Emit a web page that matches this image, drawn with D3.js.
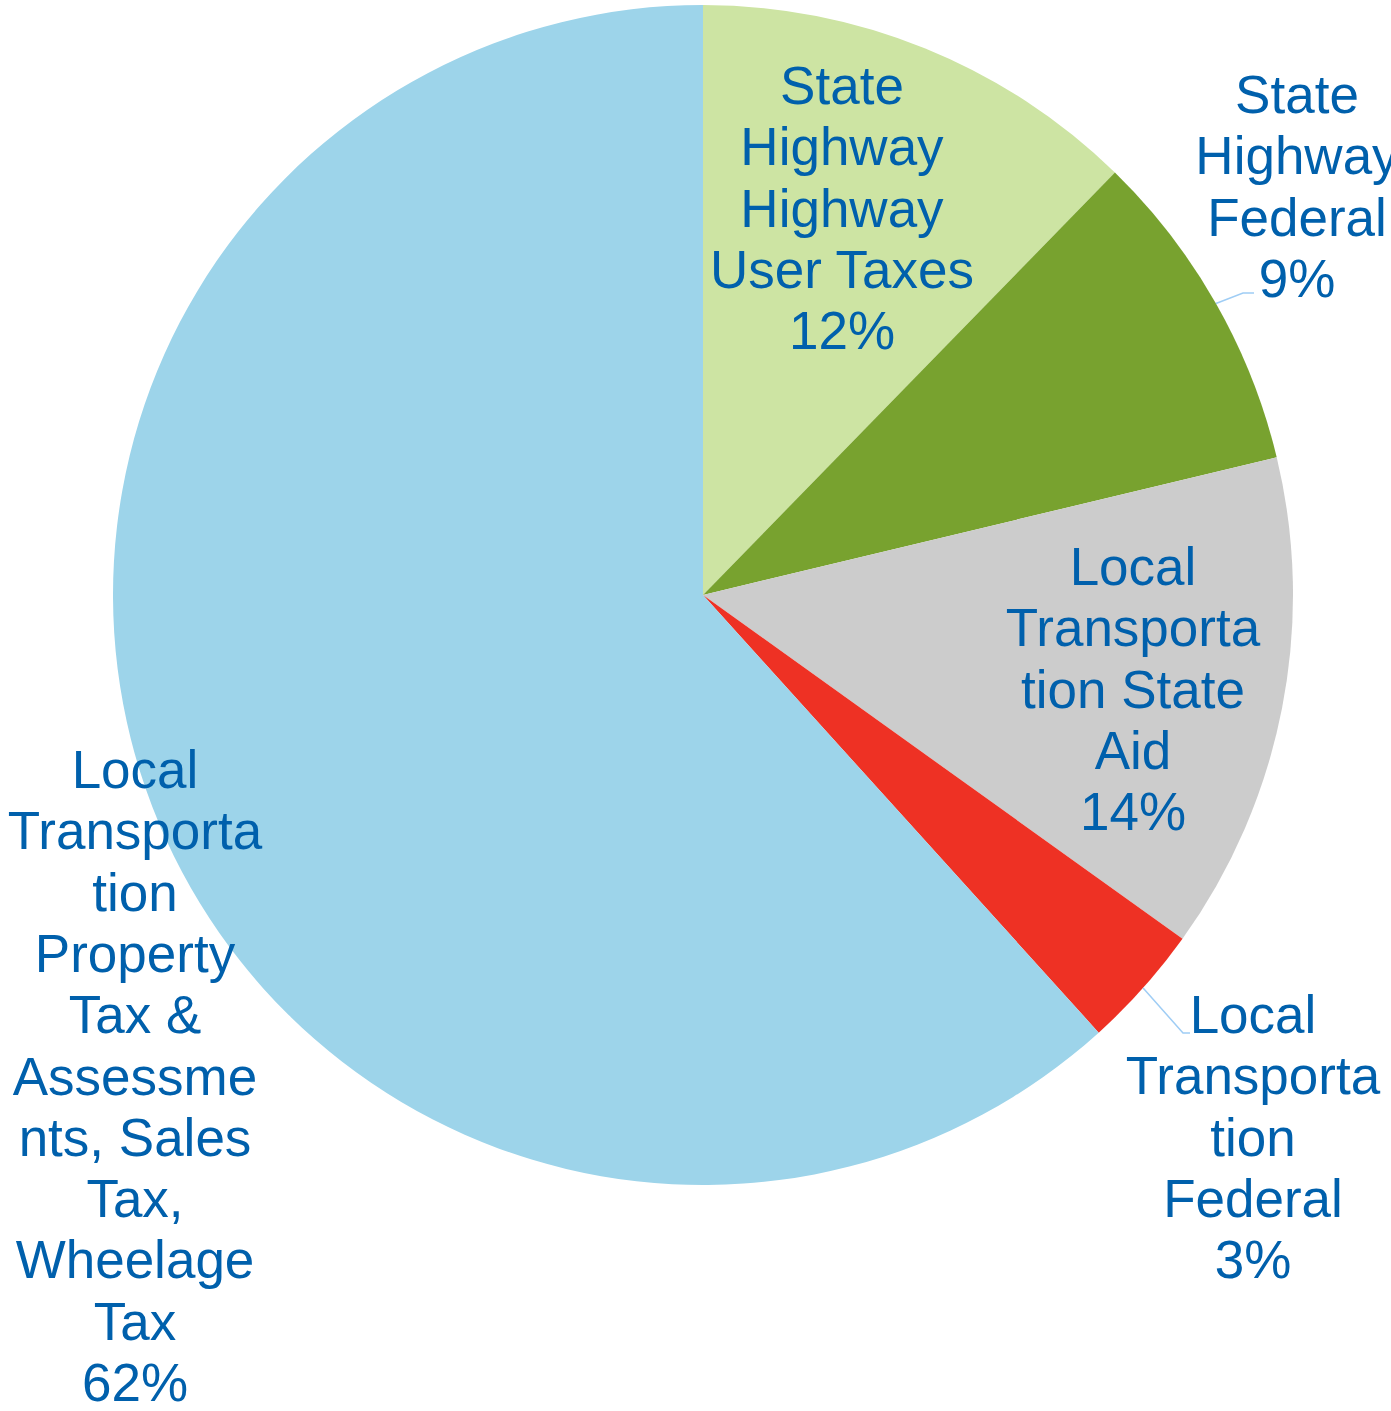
<!DOCTYPE html>
<html>
<head>
<meta charset="utf-8">
<script src="https://cdn.jsdelivr.net/npm/d3@7"></script>
<style>
  html, body { margin: 0; padding: 0; background: #fff; overflow: hidden; }
  svg text { font-family: "Liberation Sans", Arial, sans-serif; fill: #0060ac; }
</style>
</head>
<body>
<svg width="1391" height="1411"></svg>
<script>
// slice data, clockwise from 12 o'clock
const categories = [
    "State Highway Highway User Taxes",
    "State Highway Federal",
    "Local Transportation State Aid",
    "Local Transportation Federal",
    "Local Transportation Property Tax & Assessments, Sales Tax, Wheelage Tax"
];
const shares = [12.3, 8.95, 13.65, 3.4, 61.7];
const pctLabels = ["12%", "9%", "14%", "3%", "62%"];
const labelLines = [
    ["State", "Highway", "Highway", "User Taxes"],
    ["State", "Highway", "Federal"],
    ["Local", "Transporta", "tion State", "Aid"],
    ["Local", "Transporta", "tion", "Federal"],
    ["Local", "Transporta", "tion", "Property", "Tax &", "Assessme", "nts, Sales", "Tax,", "Wheelage", "Tax"]
];
const colors = ["#cde4a3", "#78a22f", "#cccccc", "#ee3124", "#9dd4ea"];

const svg = d3.select("svg");
const cx = 703, cy = 595, radius = 590;
const lineHeight = 61.3;

// label anchors: x centre, baseline of first line; leader elbow/end where used
const labelLayout = [
    { x: 842, y: 104 },
    { x: 1297, y: 113, elbow: [1243, 293], end: [1254, 293] },
    { x: 1133, y: 585 },
    { x: 1253, y: 1033, elbow: [1183, 1033], end: [1190, 1033] },
    { x: 135, y: 788 }
];

const pie = d3.pie().sort(null).value(d => d)(shares);
const arc = d3.arc().innerRadius(0).outerRadius(radius);
const edgeArc = d3.arc().innerRadius(radius).outerRadius(radius);

const g = svg.append("g").attr("transform", `translate(${cx},${cy})`);

g.selectAll("path.slice")
    .data(pie)
    .join("path")
    .attr("class", "slice")
    .attr("d", arc)
    .attr("fill", (d, i) => colors[i]);

// leader lines for the outside labels
pie.forEach((d, i) => {
    const lay = labelLayout[i];
    if (!lay.elbow) return;
    const start = edgeArc.centroid(d);
    svg.append("polyline")
        .attr("points", [
            [start[0] + cx, start[1] + cy],
            lay.elbow,
            lay.end
        ].map(p => p.join(",")).join(" "))
        .attr("fill", "none")
        .attr("stroke", "#9fcdf5")
        .attr("stroke-width", 1.5);
});

// labels
labelLines.forEach((lines, i) => {
    const lay = labelLayout[i];
    const t = svg.append("text")
        .attr("text-anchor", "middle")
        .attr("font-size", 53);
    lines.concat([pctLabels[i]]).forEach((s, j) => {
        t.append("tspan")
            .attr("x", lay.x)
            .attr("y", lay.y + j * lineHeight)
            .text(s);
    });
});
</script>
</body>
</html>
